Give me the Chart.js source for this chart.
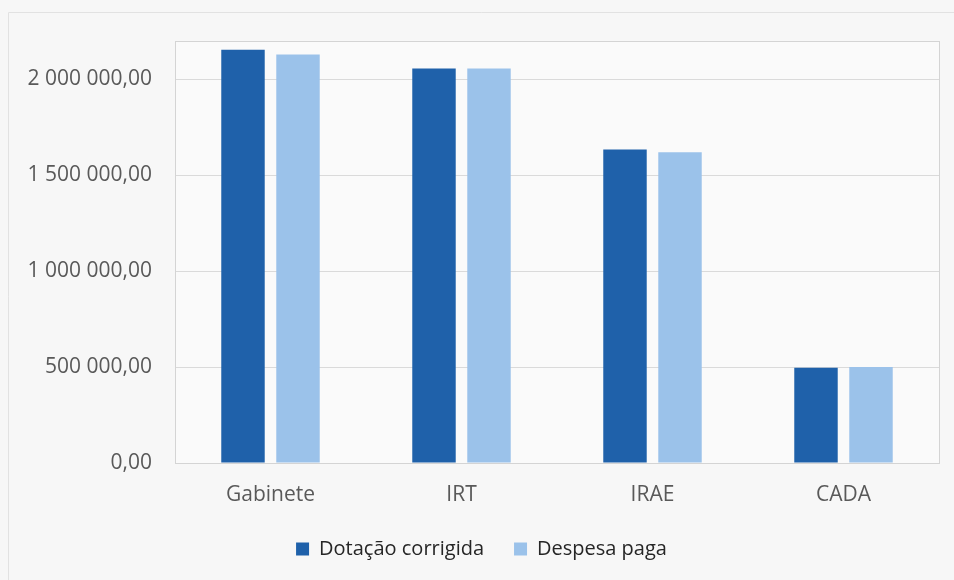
<!DOCTYPE html>
<html>
<head>
<meta charset="utf-8">
<script src="https://cdn.jsdelivr.net/npm/chart.js@4/dist/chart.umd.min.js"></script>
<style>
    html, body { margin: 0; padding: 0; background: #f7f7f7; }
    #wrap { width: 954px; height: 580px; }
</style>
</head>
<body>
<div id="wrap"><canvas id="grafico" width="954" height="580"></canvas></div>
<script>
const categorias = ['Gabinete', 'IRT', 'IRAE', 'CADA'];
const dotacaoCorrigida = [2155000, 2057000, 1634000, 497000];
const despesaPaga = [2130000, 2056000, 1620000, 500000];
const ticksY = [0, 500000, 1000000, 1500000, 2000000];

function formatoPT(v) {
    const inteiro = Math.round(v).toString().replace(/\B(?=(\d{3})+(?!\d))/g, ' ');
    return inteiro + ',00';
}

const fundo = {
    id: 'fundo_e_moldura',
    beforeDraw: (chart) => {
        const ctx = chart.ctx;
        ctx.save();
        ctx.fillStyle = '#f7f7f7';
        ctx.fillRect(0, 0, chart.width, chart.height);
        // moldura exterior
        ctx.strokeStyle = '#e2e2e2';
        ctx.lineWidth = 1;
        ctx.beginPath();
        ctx.moveTo(8.5, chart.height);
        ctx.lineTo(8.5, 12.5);
        ctx.lineTo(chart.width, 12.5);
        ctx.stroke();
        const a = chart.chartArea;
        ctx.fillStyle = '#fafafa';
        ctx.fillRect(a.left, a.top, a.right - a.left, a.bottom - a.top);
        ctx.restore();
    },
    afterDatasetsDraw: (chart) => {
        const ctx = chart.ctx;
        const a = chart.chartArea;
        ctx.save();
        ctx.strokeStyle = '#d4d4d4';
        ctx.lineWidth = 1;
        ctx.strokeRect(Math.round(a.left) + 0.5, Math.round(a.top) + 0.5,
            Math.round(a.right - a.left), Math.round(a.bottom - a.top));
        ctx.restore();
    }
};

new Chart(document.getElementById('grafico'), {
    type: 'bar',
    plugins: [fundo],
    data: {
        labels: categorias,
        datasets: [{
            label: 'Dotação corrigida',
            data: dotacaoCorrigida,
            backgroundColor: '#1f61aa',
            categoryPercentage: 0.576,
            barPercentage: 0.79
        }, {
            label: 'Despesa paga',
            data: despesaPaga,
            backgroundColor: '#9bc2ea',
            categoryPercentage: 0.576,
            barPercentage: 0.79
        }]
    },
    options: {
        responsive: false,
        animation: false,
        layout: {
            padding: { left: 24, right: 15, top: 41, bottom: 11 }
        },
        scales: {
            y: {
                min: 0,
                max: 2200000,
                afterBuildTicks: (scale) => {
                    scale.ticks = ticksY.map(v => ({ value: v }));
                },
                afterFit: (scale) => { scale.width = 151; },
                border: { display: false },
                grid: {
                    color: '#dadada',
                    drawTicks: false
                },
                ticks: {
                    padding: 23,
                    color: '#595959',
                    font: { family: 'Open Sans', size: 21 },
                    callback: (value) => formatoPT(value)
                }
            },
            x: {
                afterFit: (scale) => { scale.height = 46; },
                border: { display: false },
                grid: { display: false, drawTicks: false },
                ticks: {
                    padding: 19,
                    color: '#595959',
                    font: { family: 'Open Sans', size: 21 }
                }
            }
        },
        plugins: {
            legend: {
                position: 'bottom',
                onClick: (e) => e.stopPropagation(),
                labels: {
                    boxWidth: 13,
                    boxHeight: 13,
                    padding: 30,
                    color: '#262626',
                    font: { family: 'Open Sans', size: 20 }
                }
            },
            tooltip: { enabled: false }
        }
    }
});
</script>
</body>
</html>
